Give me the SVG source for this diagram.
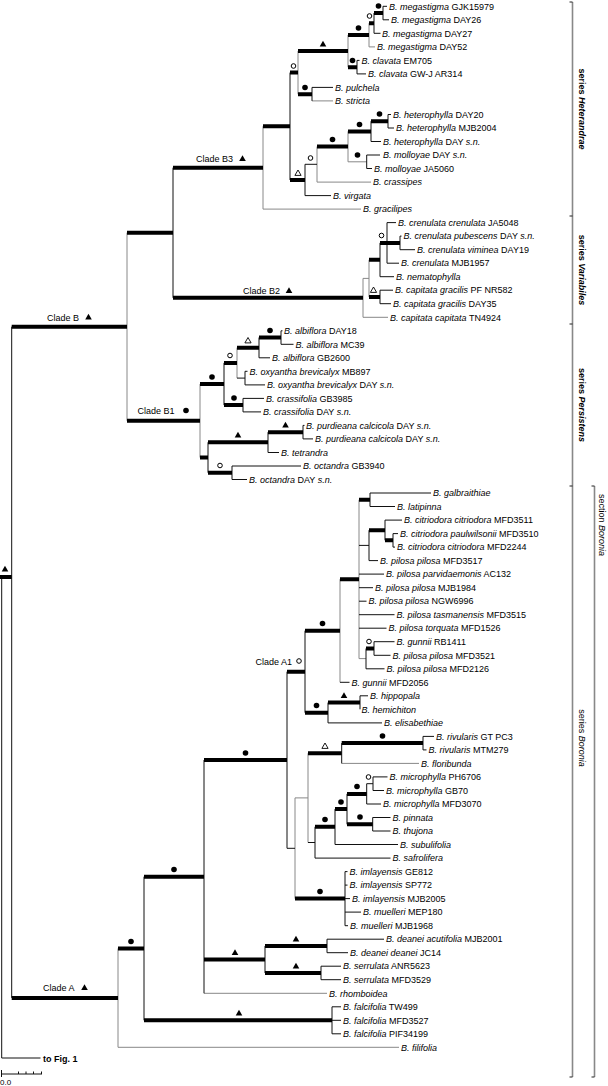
<svg xmlns="http://www.w3.org/2000/svg" xmlns:xlink="http://www.w3.org/1999/xlink" width="608" height="1086" viewBox="0 0 608 1086">
<style>
.t{font-family:"Liberation Sans",Arial,sans-serif;font-size:9px;fill:#000}
.i{font-style:italic}
.bd{font-weight:bold}
.b{stroke:#000;stroke-width:4;fill:none}
.k{stroke:#111;stroke-width:1;fill:none}
.g{stroke:#888;stroke-width:1;fill:none}
.br{stroke:#888;stroke-width:1.6;fill:none}
.tk{stroke:#222;stroke-width:1;fill:none}
</style>
<defs>
<circle id="fc" r="2.8" fill="#000"/>
<circle id="oc" r="2.3" fill="#fff" stroke="#000" stroke-width="1"/>
<path id="ft" d="M0,-3.2L3.3,2.6L-3.3,2.6Z" fill="#000"/>
<path id="ot" d="M0,-3L3.1,2.4L-3.1,2.4Z" fill="#fff" stroke="#000" stroke-width="0.9"/>
</defs>
<rect width="608" height="1086" fill="#fff"/>
<g id="connectors">
<path class="g" d="M369 23.2V46.9M348 35V67.2M298 51V94.2M263 126.3V209.1M317 146.6V182.1M348 131.4V161.8M363 278.4V317.3M369 259.8V297M127 232.7V420.8M200 384V457.5M237 347.7V378.1M118 948.5V1047.3M340 579.2V682.3M359 499.8V658.6M295 797.9V898.6M308 753.3V842.5M363 278.4H369M348 161.8H366.7M359 658.6H366M295 797.9H308M369 46.9H375M312 100.9H333M317 182.1H371M263 209.1H361M363 317.3H388M204 993.3H327M118 1047.3H399M341.7 763.4H419"/>
<path class="k" d="M383 6.3V19.8M374 13V33.3M357 60.4V73.9M312 87.4V100.9M290 72.6V180M305 164.3V195.6M371 121.2V141.5M388 114.5V128M366.7 155V168.5M173 167.7V297.8M380 242.9V276.7M387 222.6V263.2M400 236.1V249.7M380 290.2V303.7M224 362.9V405.1M259 337.5V357.8M281 330.8V344.3M245 371.3V384.9M243 398.4V411.9M208 442.3V472.7M268 432.2V452.5M303 425.4V438.9M232 466V479.5M11.7 326.7V997.9M144 876.7V1020.3M332 1006.8V1033.8M204 760V993.3M265 946V973M327 939.2V952.7M321 966.2V979.7M287 671.7V848.3M305 630.7V712.7M370 493V506.5M369 530.2V560.6M385 520.1V540.3M393 533.6V547.1M366 648.5V668.8M374 641.7V655.3M328 702.6V722.9M360 695.8V709.3M341.7 743.1V763.4M423 736.4V749.9M315 826.8V858.1M335 809.1V844.5M347 793.9V824.3M366.7 783.7V804M373 776.9V790.5M372.7 817.5V831M345 871.6V925.7M237 378.1H245M305 164.3H317M359 545.4H369M287 848.3H295M308 842.5H315M366.7 783.7H373M383 6.3H387M383 19.8H389M374 33.3H380.5M357 60.4H359.5M357 73.9H366M312 87.4H333M371 141.5H381M388 114.5H391M388 128H394M366.7 155H380M366.7 168.5H372M305 195.6H331M387 222.6H396M400 236.1H401.5M400 249.7H415M387 263.2H399M380 276.7H394M380 290.2H393M380 303.7H391M281 330.8H282.5M281 344.3H293.5M259 357.8H270M245 371.3H247.5M245 384.9H265M243 398.4H264M243 411.9H261M303 425.4H304.5M303 438.9H313M268 452.5H279M232 466H301M232 479.5H247M370 493H431M370 506.5H395M385 520.1H402M393 533.6H398M393 547.1H395M369 560.6H378M359 574.1H384M359 587.7H373M359 601.2H366.5M359 614.7H394.5M359 628.2H386.5M374 641.7H394.5M374 655.3H390.5M366 668.8H384.5M340 682.3H349.5M360 695.8H368M328 722.9H382M423 736.4H434M423 749.9H426.5M373 776.9H387.5M373 790.5H384M366.7 804H381M372.7 817.5H390.5M372.7 831H390.5M335 844.5H398M315 858.1H390.5M345 871.6H347.5M345 885.1H347.5M345 898.6H350M345 912.1H361M345 925.7H348M327 939.2H384M327 952.7H348M321 966.2H341M321 979.7H341M332 1006.8H341M332 1020.3H341M332 1033.8H341M1.7 577V1058H40.5"/>
<path class="b" d="M0 577H11.7M11.7 326.7H127M127 232.7H173M173 167.7H263M263 126.3H290M290 72.6H298M298 51H348M348 35H369M369 23.2H374M374 13H383M348 67.2H357M298 94.2H312M290 180H305M317 146.6H348M348 131.4H371M371 121.2H388M173 297.8H363M369 259.8H380M380 242.9H400M369 297H380M127 420.8H200M200 384H224M224 362.9H237M237 347.7H259M259 337.5H281M224 405.1H243M200 457.5H208M208 442.3H268M268 432.2H303M208 472.7H232M11.7 997.9H118M118 948.5H144M144 876.7H204M144 1020.3H332M204 760H287M204 959.5H265M265 946H327M265 973H321M287 671.7H305M305 630.7H340M340 579.2H359M359 499.8H370M369 530.2H385M385 540.3H393M366 648.5H374M305 712.7H328M328 702.6H360M295 898.6H345M308 753.3H341.7M341.7 743.1H423M315 826.8H335M335 809.1H347M347 793.9H366.7M347 824.3H372.7"/>
</g>
<g id="support">
<use xlink:href="#fc" x="378.5" y="6"/><use xlink:href="#fc" x="358.5" y="28"/><use xlink:href="#fc" x="352.5" y="60.5"/><use xlink:href="#fc" x="305" y="87.5"/><use xlink:href="#fc" x="332.5" y="139.5"/><use xlink:href="#fc" x="359.5" y="124.5"/><use xlink:href="#fc" x="357.5" y="155"/><use xlink:href="#fc" x="379.5" y="114"/>
<use xlink:href="#fc" x="212" y="377"/><use xlink:href="#fc" x="234" y="398"/><use xlink:href="#fc" x="270" y="330.5"/>
<use xlink:href="#fc" x="131" y="941.5"/><use xlink:href="#fc" x="174" y="869.5"/><use xlink:href="#fc" x="245.5" y="753"/><use xlink:href="#fc" x="322.5" y="623.5"/><use xlink:href="#fc" x="316.5" y="705.5"/><use xlink:href="#fc" x="320" y="891.5"/><use xlink:href="#fc" x="382.5" y="736"/><use xlink:href="#fc" x="325" y="819.5"/><use xlink:href="#fc" x="341" y="802"/><use xlink:href="#fc" x="357" y="786.5"/><use xlink:href="#fc" x="360" y="817"/>
<use xlink:href="#oc" x="293.5" y="66"/><use xlink:href="#oc" x="369.5" y="16"/><use xlink:href="#oc" x="310.5" y="158"/><use xlink:href="#oc" x="381.5" y="235.5"/><use xlink:href="#oc" x="230" y="355.5"/><use xlink:href="#oc" x="220" y="465.5"/><use xlink:href="#oc" x="369" y="641.5"/><use xlink:href="#oc" x="368.5" y="777"/>
<use xlink:href="#ft" x="323" y="44"/><use xlink:href="#ft" x="238" y="435"/><use xlink:href="#ft" x="285.5" y="425"/><use xlink:href="#ft" x="239" y="1013"/><use xlink:href="#ft" x="235" y="952.5"/><use xlink:href="#ft" x="296" y="939"/><use xlink:href="#ft" x="296" y="966"/><use xlink:href="#ft" x="344" y="695.5"/><use xlink:href="#ft" x="5" y="569"/>
<use xlink:href="#ot" x="298" y="173"/><use xlink:href="#ot" x="373.5" y="290"/><use xlink:href="#ot" x="248" y="340.5"/><use xlink:href="#ot" x="325" y="746"/>
</g>
<g id="clade-labels">
<g id="clade-B"><text class="t" x="47" y="320.5">Clade B</text><use xlink:href="#ft" x="88.5" y="317"/></g>
<g id="clade-B3"><text class="t" x="196" y="162">Clade B3</text><use xlink:href="#ft" x="242.5" y="158.5"/></g>
<g id="clade-B2"><text class="t" x="243" y="294">Clade B2</text><use xlink:href="#ft" x="289" y="290.5"/></g>
<g id="clade-B1"><text class="t" x="137.5" y="414">Clade B1</text><use xlink:href="#fc" x="186" y="410.5"/></g>
<g id="clade-A"><text class="t" x="43" y="991">Clade A</text><use xlink:href="#ft" x="84.5" y="987.5"/></g>
<g id="clade-A1"><text class="t" x="292" y="665" text-anchor="end">Clade A1</text><use xlink:href="#oc" x="299" y="661"/></g>
</g>
<g id="leaves" class="t">
<g id="leaf01"><text x="389" y="9.5"><tspan class="i">B. megastigma</tspan> GJK15979</text></g>
<g id="leaf02"><text x="391" y="23"><tspan class="i">B. megastigma</tspan> DAY26</text></g>
<g id="leaf03"><text x="382" y="36.5"><tspan class="i">B. megastigma</tspan> DAY27</text></g>
<g id="leaf04"><text x="377" y="50.1"><tspan class="i">B. megastigma</tspan> DAY52</text></g>
<g id="leaf05"><text x="361.5" y="63.6"><tspan class="i">B. clavata</tspan> EM705</text></g>
<g id="leaf06"><text x="368" y="77.1"><tspan class="i">B. clavata</tspan> GW-J AR314</text></g>
<g id="leaf07"><text x="335" y="90.6" class="i">B. pulchela</text></g>
<g id="leaf08"><text x="335" y="104.1" class="i">B. stricta</text></g>
<g id="leaf09"><text x="393" y="117.7"><tspan class="i">B. heterophylla</tspan> DAY20</text></g>
<g id="leaf10"><text x="396" y="131.2"><tspan class="i">B. heterophylla</tspan> MJB2004</text></g>
<g id="leaf11"><text x="383" y="144.7"><tspan class="i">B. heterophylla</tspan> DAY <tspan class="i">s.n.</tspan></text></g>
<g id="leaf12"><text x="383" y="158.2"><tspan class="i">B. molloyae</tspan> DAY <tspan class="i">s.n.</tspan></text></g>
<g id="leaf13"><text x="374" y="171.7"><tspan class="i">B. molloyae</tspan> JA5060</text></g>
<g id="leaf14"><text x="373" y="185.3" class="i">B. crassipes</text></g>
<g id="leaf15"><text x="333" y="198.8" class="i">B. virgata</text></g>
<g id="leaf16"><text x="363" y="212.3" class="i">B. gracilipes</text></g>
<g id="leaf17"><text x="398" y="225.8"><tspan class="i">B. crenulata crenulata</tspan> JA5048</text></g>
<g id="leaf18"><text x="403.5" y="239.3"><tspan class="i">B. crenulata pubescens</tspan> DAY <tspan class="i">s.n.</tspan></text></g>
<g id="leaf19"><text x="417" y="252.9"><tspan class="i">B. crenulata viminea</tspan> DAY19</text></g>
<g id="leaf20"><text x="401" y="266.4"><tspan class="i">B. crenulata</tspan> MJB1957</text></g>
<g id="leaf21"><text x="396" y="279.9" class="i">B. nematophylla</text></g>
<g id="leaf22"><text x="395" y="293.4"><tspan class="i">B. capitata gracilis</tspan> PF NR582</text></g>
<g id="leaf23"><text x="393" y="306.9"><tspan class="i">B. capitata gracilis</tspan> DAY35</text></g>
<g id="leaf24"><text x="390" y="320.5"><tspan class="i">B. capitata capitata</tspan> TN4924</text></g>
<g id="leaf25"><text x="284" y="334"><tspan class="i">B. albiflora</tspan> DAY18</text></g>
<g id="leaf26"><text x="295.5" y="347.5"><tspan class="i">B. albiflora</tspan> MC39</text></g>
<g id="leaf27"><text x="272" y="361"><tspan class="i">B. albiflora</tspan> GB2600</text></g>
<g id="leaf28"><text x="249.5" y="374.5"><tspan class="i">B. oxyantha brevicalyx</tspan> MB897</text></g>
<g id="leaf29"><text x="267" y="388.1"><tspan class="i">B. oxyantha brevicalyx</tspan> DAY <tspan class="i">s.n.</tspan></text></g>
<g id="leaf30"><text x="266" y="401.6"><tspan class="i">B. crassifolia</tspan> GB3985</text></g>
<g id="leaf31"><text x="263" y="415.1"><tspan class="i">B. crassifolia</tspan> DAY <tspan class="i">s.n.</tspan></text></g>
<g id="leaf32"><text x="306" y="428.6"><tspan class="i">B. purdieana calcicola</tspan> DAY <tspan class="i">s.n.</tspan></text></g>
<g id="leaf33"><text x="315" y="442.1"><tspan class="i">B. purdieana calcicola</tspan> DAY <tspan class="i">s.n.</tspan></text></g>
<g id="leaf34"><text x="281" y="455.7" class="i">B. tetrandra</text></g>
<g id="leaf35"><text x="303" y="469.2"><tspan class="i">B. octandra</tspan> GB3940</text></g>
<g id="leaf36"><text x="249" y="482.7"><tspan class="i">B. octandra</tspan> DAY <tspan class="i">s.n.</tspan></text></g>
<g id="leaf37"><text x="433" y="496.2" class="i">B. galbraithiae</text></g>
<g id="leaf38"><text x="397" y="509.7" class="i">B. latipinna</text></g>
<g id="leaf39"><text x="404" y="523.3"><tspan class="i">B. citriodora citriodora</tspan> MFD3511</text></g>
<g id="leaf40"><text x="400" y="536.8"><tspan class="i">B. citriodora paulwilsonii</tspan> MFD3510</text></g>
<g id="leaf41"><text x="397" y="550.3"><tspan class="i">B. citriodora citriodora</tspan> MFD2244</text></g>
<g id="leaf42"><text x="380" y="563.8"><tspan class="i">B. pilosa pilosa</tspan> MFD3517</text></g>
<g id="leaf43"><text x="386" y="577.3"><tspan class="i">B. pilosa parvidaemonis</tspan> AC132</text></g>
<g id="leaf44"><text x="375" y="590.9"><tspan class="i">B. pilosa pilosa</tspan> MJB1984</text></g>
<g id="leaf45"><text x="368.5" y="604.4"><tspan class="i">B. pilosa pilosa</tspan> NGW6996</text></g>
<g id="leaf46"><text x="396.5" y="617.9"><tspan class="i">B. pilosa tasmanensis</tspan> MFD3515</text></g>
<g id="leaf47"><text x="388.5" y="631.4"><tspan class="i">B. pilosa torquata</tspan> MFD1526</text></g>
<g id="leaf48"><text x="396.5" y="644.9"><tspan class="i">B. gunnii</tspan> RB1411</text></g>
<g id="leaf49"><text x="392.5" y="658.5"><tspan class="i">B. pilosa pilosa</tspan> MFD3521</text></g>
<g id="leaf50"><text x="386.5" y="672"><tspan class="i">B. pilosa pilosa</tspan> MFD2126</text></g>
<g id="leaf51"><text x="351.5" y="685.5"><tspan class="i">B. gunnii</tspan> MFD2056</text></g>
<g id="leaf52"><text x="370" y="699" class="i">B. hippopala</text></g>
<g id="leaf53"><text x="361.5" y="712.5" class="i">B. hemichiton</text></g>
<g id="leaf54"><text x="384" y="726.1" class="i">B. elisabethiae</text></g>
<g id="leaf55"><text x="436" y="739.6"><tspan class="i">B. rivularis</tspan> GT PC3</text></g>
<g id="leaf56"><text x="428.5" y="753.1"><tspan class="i">B. rivularis</tspan> MTM279</text></g>
<g id="leaf57"><text x="421" y="766.6" class="i">B. floribunda</text></g>
<g id="leaf58"><text x="389.5" y="780.1"><tspan class="i">B. microphylla</tspan> PH6706</text></g>
<g id="leaf59"><text x="386" y="793.7"><tspan class="i">B. microphylla</tspan> GB70</text></g>
<g id="leaf60"><text x="383" y="807.2"><tspan class="i">B. microphylla</tspan> MFD3070</text></g>
<g id="leaf61"><text x="392.5" y="820.7" class="i">B. pinnata</text></g>
<g id="leaf62"><text x="392.5" y="834.2" class="i">B. thujona</text></g>
<g id="leaf63"><text x="400" y="847.7" class="i">B. subulifolia</text></g>
<g id="leaf64"><text x="392.5" y="861.3" class="i">B. safrolifera</text></g>
<g id="leaf65"><text x="349.5" y="874.8"><tspan class="i">B. imlayensis</tspan> GE812</text></g>
<g id="leaf66"><text x="349.5" y="888.3"><tspan class="i">B. imlayensis</tspan> SP772</text></g>
<g id="leaf67"><text x="352" y="901.8"><tspan class="i">B. imlayensis</tspan> MJB2005</text></g>
<g id="leaf68"><text x="363" y="915.3"><tspan class="i">B. muelleri</tspan> MEP180</text></g>
<g id="leaf69"><text x="350" y="928.9"><tspan class="i">B. muelleri</tspan> MJB1968</text></g>
<g id="leaf70"><text x="386" y="942.4"><tspan class="i">B. deanei acutifolia</tspan> MJB2001</text></g>
<g id="leaf71"><text x="350" y="955.9"><tspan class="i">B. deanei deanei</tspan> JC14</text></g>
<g id="leaf72"><text x="343" y="969.4"><tspan class="i">B. serrulata</tspan> ANR5623</text></g>
<g id="leaf73"><text x="343" y="982.9"><tspan class="i">B. serrulata</tspan> MFD3529</text></g>
<g id="leaf74"><text x="329" y="996.5" class="i">B. rhomboidea</text></g>
<g id="leaf75"><text x="343" y="1010"><tspan class="i">B. falcifolia</tspan> TW499</text></g>
<g id="leaf76"><text x="343" y="1023.5"><tspan class="i">B. falcifolia</tspan> MFD3527</text></g>
<g id="leaf77"><text x="343" y="1037"><tspan class="i">B. falcifolia</tspan> PIF34199</text></g>
<g id="leaf78"><text x="401" y="1050.5" class="i">B. filifolia</text></g>
</g>
<g id="to-fig1"><text class="t bd" x="43" y="1061.5">to Fig. 1</text></g>
<g id="scale-bar">
<path class="k" d="M1.5 1070V1077M1.5 1074H42M18.5 1071.5V1074M26 1071.5V1074M33.5 1071.5V1074M41.5 1071.5V1074"/>
<text class="t" x="0" y="1085" style="font-size:8px">0.0</text>
</g>
<g id="brackets">
<path class="br" d="M572.5 2V1077M594.5 486V1077"/>
<path class="tk" d="M569.5 2H572.5M569.5 216H572.5M569.5 324H572.5M569.5 486H572.5M569.5 1077H572.5M591.5 486H594.5M591.5 1077H594.5"/>
<text class="t bd" transform="translate(579,109) rotate(90)" text-anchor="middle">series <tspan class="i">Heterandrae</tspan></text>
<text class="t bd" transform="translate(579,270) rotate(90)" text-anchor="middle">series <tspan class="i">Variabiles</tspan></text>
<text class="t bd" transform="translate(579,405) rotate(90)" text-anchor="middle">series <tspan class="i">Persistens</tspan></text>
<text class="t" transform="translate(579,738) rotate(90)" text-anchor="middle">series <tspan class="i">Boronia</tspan></text>
<text class="t" transform="translate(598.5,525) rotate(90)" text-anchor="middle">section <tspan class="i">Boronia</tspan></text>
</g>
</svg>
